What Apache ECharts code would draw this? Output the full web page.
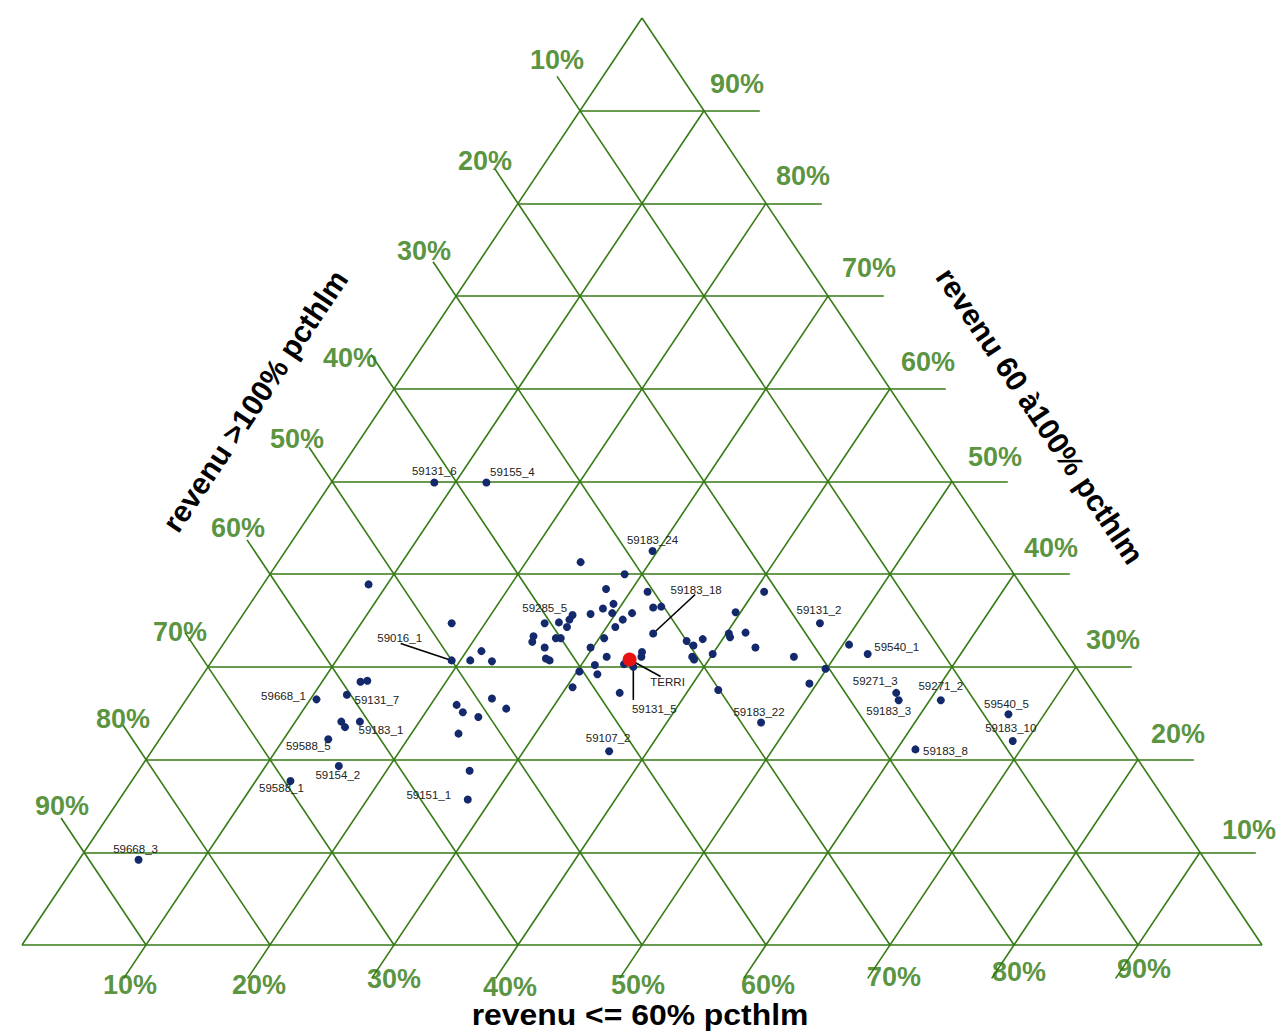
<!DOCTYPE html>
<html>
<head>
<meta charset="utf-8">
<script src="https://cdn.jsdelivr.net/npm/echarts@6/dist/echarts.min.js"></script>
<style>
html,body{margin:0;padding:0;background:#ffffff;}
#chart{width:1278px;height:1034px;}
</style>
</head>
<body>
<div id="chart"></div>
<script>
// ---------------- DATA ----------------
const tickValues = [10, 20, 30, 40, 50, 60, 70, 80, 90];
const tickLabels = ['10%', '20%', '30%', '40%', '50%', '60%', '70%', '80%', '90%'];

const titleLow  = 'revenu <= 60% pcthlm';
const titleMid  = 'revenu 60 à100% pcthlm';
const titleHigh = 'revenu >100% pcthlm';

const pointNames = [
  '59131_6','59155_4','59183_24','','','','','','','',
  '','','','','','','','','','59285_5',
  '','','','59183_18','','','','','','',
  '','','','','','','','','','',
  '','','','','59016_1','','','59131_5','','',
  '','','','','','59131_7','','','','',
  '','','','','','59131_2','','59540_1','','',
  '59271_3','59183_3','59271_2','59183_22','59540_5','59183_10','59183_8','59107_2','59668_1','',
  '','59183_1','59588_5','59154_2','59588_1','','','','','',
  '','59151_1','59668_3'
];
// share of households "revenu <= 60% pcthlm"
const pctLow = [
  8.3,12.5,29.6,24.4,28.6,8.5,27.9,31.4,29.3,32.7,
  33.3,28.7,31.3,28.0,29.7,26.6,26.6,26.8,25.9,24.8,
  30.9,30.7,17.3,34.1,24.6,24.8,26.5,26.9,30.4,37.2,
  38.4,40.2,40.5,26.1,29.8,34.2,34.4,38.0,26.8,27.2,
  31.6,21.2,20.8,22.6,19.3,31.1,33.4,34.3,38.5,38.8,
  40.0,30.2,31.8,13.1,13.6,12.7,24.6,30.5,34.6,42.4,
  39.6,40.8,41.5,43.1,46.7,47.0,50.5,52.5,49.9,49.4,
  56.9,57.5,60.9,47.6,67.1,68.9,61.5,36.9,10.5,13.7,
  14.3,15.2,13.6,15.9,12.8,22.1,23.0,24.5,26.3,23.8,
  26.7,28.1,4.8
];
// share "revenu 60 à100% pcthlm"
const pctMid = [
  49.9,49.9,42.5,41.3,40.0,38.9,38.4,38.1,36.8,36.4,
  36.5,36.3,35.8,35.7,35.8,35.6,35.1,34.3,34.8,34.7,
  35.1,34.3,34.7,33.6,33.3,32.7,33.1,33.1,33.1,32.8,
  33.0,33.6,33.2,32.1,32.1,31.6,31.1,32.3,30.9,30.7,
  31.1,31.7,30.7,30.6,30.7,30.2,30.3,30.0,31.1,30.8,
  31.4,29.5,29.2,28.4,28.5,27.0,26.6,27.8,27.2,27.5,
  35.9,38.1,33.7,32.1,31.1,34.7,32.4,31.4,29.8,28.2,
  27.2,26.4,26.4,24.0,24.9,22.0,21.1,20.9,26.5,24.1,
  23.5,24.1,22.2,19.3,17.7,25.9,25.1,24.6,25.5,22.8,
  18.8,15.7,9.2
];
// share "revenu >100% pcthlm"
const pctHigh = [
  41.8,37.6,27.9,34.3,31.4,52.6,33.7,30.5,33.9,30.9,
  30.2,35.0,32.9,36.3,34.5,37.8,38.3,38.9,39.3,40.5,
  34.0,35.0,48.0,32.3,42.1,42.5,40.4,40.0,36.5,30.0,
  28.6,26.2,26.3,41.8,38.1,34.2,34.5,29.7,42.3,42.1,
  37.3,47.1,48.5,46.8,50.0,38.7,36.3,35.7,30.4,30.4,
  28.6,40.3,39.0,58.5,57.9,60.3,48.8,41.7,38.2,30.1,
  24.5,21.1,24.8,24.8,22.2,18.3,17.1,16.1,20.3,22.4,
  15.9,16.1,12.7,28.4,8.0,9.1,17.4,42.2,63.0,62.2,
  62.2,60.7,64.2,64.8,69.5,52.0,51.9,50.9,48.2,53.4,
  54.5,56.2,86.0
];
const terriName = 'TERRI';
const terriLow = [33.6];
const terriMid = [30.8];
const terriHigh = [35.6];

// ---------------- LAYOUT / STYLE ----------------
const GREEN = '#367a16';
const GREEN_TXT = '#2f780c';
const NAVY = '#13296b';
const FONT = 'Arial, "Liberation Sans", sans-serif';
const EXT_R = 0.045, EXT_L = 0.037, EXT_B = 0.036;

// pixel offsets of tick labels from their edge point
const leftLabelOffsets  = [[-23,-51],[-33,-42],[-32,-45],[-44,-31],[-35,-43],[-32,-46],[-28,-35],[-23,-41],[-22,-46]];
const rightLabelOffsets = [[49,-22],[40,-26],[37,-27],[37,-26],[43,-25],[38,-27],[41,-28],[37,-27],[33,-27]];
const bottomLabelOffsets= [[-16,40],[-11,40],[0,34],[-8,42],[-4,40],[2,40],[4,32],[5,27],[6,24]];

const labelOffsets = {
  '59131_6':[0,-11], '59155_4':[26,-10], '59183_24':[0,-11], '59285_5':[0,-15],
  '59183_18':[43,-44], '59016_1':[-52,-22], '59131_5':[21,42], '59131_7':[30,5],
  '59131_2':[-1,-13], '59540_1':[29,-7], '59271_3':[-21,-12], '59183_3':[-10,11],
  '59271_2':[0,-14], '59183_22':[-2,-11], '59540_5':[-2,-10], '59183_10':[-2,-13],
  '59183_8':[30,2], '59107_2':[-1,-13], '59668_1':[-33,-3], '59183_1':[21,8],
  '59588_5':[-20,7], '59154_2':[-1,9], '59588_1':[-9,7], '59151_1':[-39,-4],
  '59668_3':[-3,-11], 'TERRI':[38,23]
};
const leaderEnds = {
  '59183_18':[42,-39], '59016_1':[-51,-17], '59131_5':[0,33], 'TERRI':[31,17]
};

// ternary -> cartesian (x: fraction of base, y: fraction of height)
function toXY(low, mid, high) {
  const s = low + mid + high;
  return [(low + mid / 2) / s, mid / s];
}

// grid segments
const segs = [];
segs.push([toXY(0,0,100), toXY(100,0,0)]);
segs.push([toXY(0,0,100), toXY(0,100,0)]);
segs.push([toXY(0,100,0), toXY(100,0,0)]);
tickValues.forEach(v => {
  const a1 = toXY(0, v, 100 - v), a2 = toXY(100 - v, v, 0);
  segs.push([a1, [a2[0] + EXT_R, a2[1]]]);
  const b1 = toXY(100 - v, 0, v), b2 = toXY(0, 100 - v, v);
  segs.push([b1, [b2[0] - 0.5 * EXT_L, b2[1] + EXT_L]]);
  const c1 = toXY(v, 100 - v, 0), c2 = toXY(v, 0, 100 - v);
  segs.push([c1, [c2[0] - 0.5 * EXT_B, c2[1] - EXT_B]]);
});

// points
const pointData = pctLow.map((l, i) => {
  const name = pointNames[i];
  const item = { value: toXY(l, pctMid[i], pctHigh[i]), name: name };
  if (name) item.label = { show: true, offset: labelOffsets[name] };
  return item;
});
const terriData = terriLow.map((l, i) => ({
  value: toXY(l, terriMid[i], terriHigh[i]), name: terriName,
  label: { show: true, offset: labelOffsets[terriName] }
}));

// leader lines
const leaderData = [];
pointData.concat(terriData).forEach(p => {
  if (leaderEnds[p.name]) {
    leaderData.push([p.value[0], p.value[1], leaderEnds[p.name][0], leaderEnds[p.name][1]]);
  }
});

// tick label anchors
const tickData = [];
tickValues.forEach((v, i) => {
  tickData.push({ value: toXY(0, 100 - v, v), label: { formatter: tickLabels[i], offset: leftLabelOffsets[i] } });
  tickData.push({ value: toXY(100 - v, v, 0), label: { formatter: tickLabels[i], offset: rightLabelOffsets[i] } });
  tickData.push({ value: toXY(v, 0, 100 - v), label: { formatter: tickLabels[i], offset: bottomLabelOffsets[i] } });
});

const chart = echarts.init(document.getElementById('chart'), null, { renderer: 'svg' });
chart.setOption({
  backgroundColor: '#ffffff',
  animation: false,
  grid: { left: 22, top: 18, width: 1240, height: 927, show: false },
  xAxis: { type: 'value', min: 0, max: 1, show: false },
  yAxis: { type: 'value', min: 0, max: 1, show: false },
  graphic: [
    { type: 'text', x: 255, y: 401, rotation: 56.2 * Math.PI / 180,
      style: { text: titleHigh, fontSize: 30, fontWeight: 'bold', fontFamily: FONT, fill: '#000', align: 'center', verticalAlign: 'middle' } },
    { type: 'text', x: 1040, y: 416, rotation: -56.2 * Math.PI / 180,
      style: { text: titleMid, fontSize: 30, fontWeight: 'bold', fontFamily: FONT, fill: '#000', align: 'center', verticalAlign: 'middle' } },
    { type: 'text', x: 640, y: 1015, scaleX: 1.1,
      style: { text: titleLow, fontSize: 29, fontWeight: 'bold', fontFamily: FONT, fill: '#000', align: 'center', verticalAlign: 'middle' } }
  ],
  series: [
    {
      type: 'lines', coordinateSystem: 'cartesian2d', polyline: false, silent: true, clip: false, z: 1,
      lineStyle: { color: GREEN, width: 1.6, opacity: 1, curveness: 0 },
      data: segs.map(c => ({ coords: c }))
    },
    {
      type: 'scatter', silent: true, clip: false, z: 2, symbolSize: 0, symbol: 'circle',
      itemStyle: { color: 'rgba(0,0,0,0)' },
      label: { show: true, position: 'inside', color: GREEN_TXT, fontSize: 27, fontWeight: 'bold', fontFamily: FONT },
      data: tickData
    },
    {
      type: 'custom', coordinateSystem: 'cartesian2d', silent: true, clip: false, z: 3,
      data: leaderData,
      renderItem: function (params, api) {
        const p = api.coord([api.value(0), api.value(1)]);
        return { type: 'line', shape: { x1: p[0], y1: p[1], x2: p[0] + api.value(2), y2: p[1] + api.value(3) },
                 style: { stroke: '#000', lineWidth: 1.6 } };
      }
    },
    {
      type: 'scatter', silent: true, clip: false, z: 4, symbol: 'circle', symbolSize: 8,
      itemStyle: { color: NAVY, opacity: 1 },
      label: { show: false, position: 'inside', formatter: '{b}', color: '#222', fontSize: 11.5, fontFamily: FONT },
      data: pointData
    },
    {
      type: 'scatter', silent: true, clip: false, z: 5, symbol: 'circle', symbolSize: 14,
      itemStyle: { color: '#e81212', opacity: 1 },
      label: { show: false, position: 'inside', formatter: '{b}', color: '#222', fontSize: 11.5, fontFamily: FONT },
      data: terriData
    }
  ]
});
</script>
</body>
</html>
